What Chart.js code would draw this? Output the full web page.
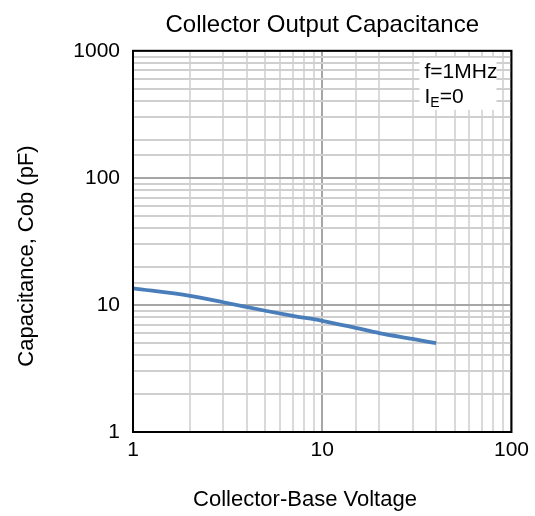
<!DOCTYPE html>
<html>
<head>
<meta charset="utf-8">
<script src="https://cdn.jsdelivr.net/npm/chart.js@4/dist/chart.umd.min.js"></script>
<style>
  body { margin: 0; background: #fff; }
  #wrap { width: 535px; height: 516px; }
</style>
</head>
<body>
<div id="wrap"><canvas id="myChart" width="535" height="516"></canvas></div>
<script>
const voltage = [1, 2, 3, 5, 7, 10, 15, 20, 30, 40];
const capacitance = [13.5, 11.8, 10.5, 9.0, 8.2, 7.5, 6.6, 6.0, 5.4, 5.0];
const xTickLabels = [1, 10, 100];
const yTickLabels = [1, 10, 100, 1000];

const fontFamily = "'Liberation Sans', Arial, sans-serif";

function isDecade(v) {
  const l = Math.log10(v);
  return Math.abs(l - Math.round(l)) < 1e-9;
}

function gridColor(horizontal) {
  return function (ctx) {
    if (ctx.tick && isDecade(ctx.tick.value)) return '#a6a6a6';
    return horizontal ? '#cfcfcf' : '#dadada';
  };
}

// center the chart title over the plot area instead of the canvas
const titleOverPlot = {
  id: 'titleOverPlot',
  afterLayout(chart) {
    if (chart.titleBlock) {
      chart.titleBlock.left = chart.chartArea.left;
      chart.titleBlock.right = chart.chartArea.right;
    }
  }
};

const frameAndNote = {
  id: 'frameAndNote',
  afterDraw(chart) {
    const ctx = chart.ctx;
    const a = chart.chartArea;
    ctx.save();
    // note box
    const bx = a.right - 92, by = a.top + 7;
    ctx.fillStyle = '#fff';
    ctx.fillRect(bx, by, 77, 52);
    ctx.fillStyle = '#000';
    ctx.textBaseline = 'middle';
    ctx.textAlign = 'left';
    ctx.font = '21px ' + fontFamily;
    ctx.fillText('f=1MHz', bx + 5, by + 14);
    ctx.fillText('I', bx + 5, by + 39);
    let w = ctx.measureText('I').width;
    ctx.font = '14px ' + fontFamily;
    ctx.fillText('E', bx + 5 + w, by + 45);
    w += ctx.measureText('E').width;
    ctx.font = '21px ' + fontFamily;
    ctx.fillText('=0', bx + 5 + w, by + 39);
    // plot frame
    ctx.strokeStyle = '#000';
    ctx.lineWidth = 2;
    ctx.strokeRect(a.left, a.top, a.right - a.left, a.bottom - a.top);
    // axis titles
    ctx.font = '22px ' + fontFamily;
    ctx.textAlign = 'center';
    ctx.fillText('Collector-Base Voltage', 305, 500);
    ctx.translate(27, 256);
    ctx.rotate(-Math.PI / 2);
    ctx.fillText('Capacitance, Cob (pF)', 0, 0);
    ctx.restore();
  }
};

new Chart('myChart', {
  type: 'line',
  data: {
    datasets: [{
      data: voltage.map((v, i) => ({ x: v, y: capacitance[i] })),
      borderColor: '#4a7ebb',
      borderWidth: 3.8,
      pointRadius: 0,
      cubicInterpolationMode: 'monotone',
      fill: false
    }]
  },
  options: {
    responsive: false,
    animation: false,
    layout: { padding: { left: 0, right: 20, top: 0, bottom: 0 } },
    plugins: {
      legend: { display: false },
      tooltip: { enabled: false },
      title: {
        display: true,
        text: 'Collector Output Capacitance',
        color: '#000',
        font: { family: fontFamily, size: 24, weight: 'normal' },
        padding: { top: 11, bottom: 11 }
      }
    },
    scales: {
      x: {
        type: 'logarithmic',
        min: 1,
        max: 100,
        afterFit(scale) { scale.height = 84; },
        grid: { color: gridColor(false), lineWidth: 2, drawTicks: false },
        border: { color: '#000', width: 2 },
        ticks: {
          autoSkip: false,
          maxRotation: 0,
          padding: 6,
          color: '#000',
          font: { family: fontFamily, size: 21 },
          callback: (v) => xTickLabels.includes(v) ? String(v) : ''
        }
      },
      y: {
        type: 'logarithmic',
        min: 1,
        max: 1000,
        afterFit(scale) { scale.width = 133; },
        grid: { color: gridColor(true), lineWidth: 2, drawTicks: false },
        border: { color: '#000', width: 2 },
        ticks: {
          autoSkip: false,
          padding: 13,
          color: '#000',
          font: { family: fontFamily, size: 21 },
          callback: (v) => yTickLabels.includes(v) ? String(v) : ''
        }
      }
    }
  },
  plugins: [titleOverPlot, frameAndNote]
});
</script>
</body>
</html>
